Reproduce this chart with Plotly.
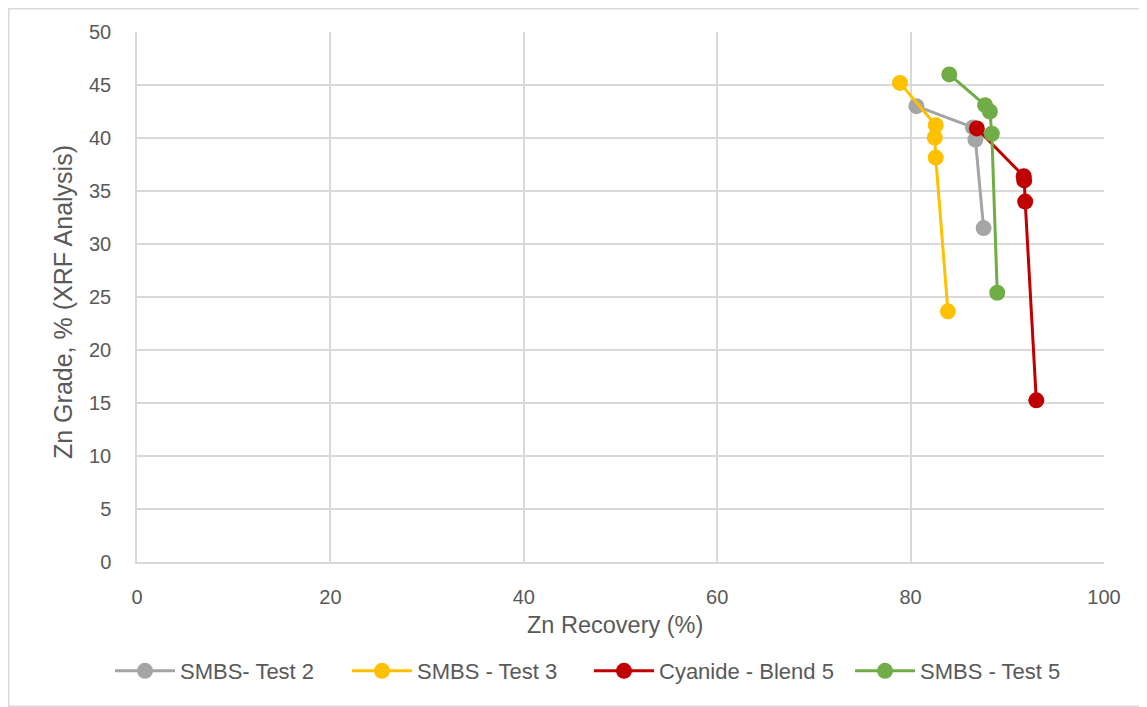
import plotly.graph_objects as go

series_names = ["SMBS- Test 2", "SMBS - Test 3", "Cyanide - Blend 5", "SMBS - Test 5"]
series_colors = ["#A5A5A5", "#FFC000", "#C00000", "#70AD47"]

smbs2_x = [80.6, 86.45, 86.7, 87.55]
smbs2_y = [43.0, 41.0, 39.85, 31.5]

smbs3_x = [78.9, 82.6, 82.5, 82.6, 83.86]
smbs3_y = [45.2, 41.2, 40.05, 38.15, 23.65]

cyan5_x = [86.85, 91.7, 91.75, 91.85, 93.0]
cyan5_y = [40.9, 36.4, 36.0, 34.0, 15.25]

smbs5_x = [84.0, 87.7, 88.2, 88.4, 88.96]
smbs5_y = [46.0, 43.1, 42.5, 40.4, 25.4]

x_ticks = [0, 20, 40, 60, 80, 100]
y_ticks = [0, 5, 10, 15, 20, 25, 30, 35, 40, 45, 50]

xs = [smbs2_x, smbs3_x, cyan5_x, smbs5_x]
ys = [smbs2_y, smbs3_y, cyan5_y, smbs5_y]

FONT = "Liberation Sans"
TXT = "#595959"
GRID = "#D9D9D9"

# page has an 8px body margin; figure coords = page coords - 8
W, H = 1139, 699
L, R, T, B = 129, 43, 24, 145
pw, ph = W - L - R, H - T - B

def px_x(page_x):
    return (page_x - 8 - L) / pw

def px_y(page_y):
    return (H - B - (page_y - 8)) / ph

legend_ids = ["legend", "legend2", "legend3", "legend4"]
legend_starts = [115, 352, 594, 855]

fig = go.Figure()
for name, color, x, y, lid in zip(series_names, series_colors, xs, ys, legend_ids):
    fig.add_trace(go.Scatter(
        x=x, y=y, name=name, mode="lines+markers",
        line=dict(color=color, width=3),
        marker=dict(color=color, size=16),
        legend=lid,
    ))

legend_layouts = {}
for lid, start in zip(legend_ids, legend_starts):
    legend_layouts[lid] = dict(
        orientation="h", x=px_x(start - 5), xanchor="left", y=px_y(671),
        yanchor="middle", font=dict(size=22, color=TXT), itemwidth=60,
        bgcolor="rgba(0,0,0,0)",
    )

fig.update_layout(
    width=W, height=H,
    margin=dict(l=L, r=R, t=T, b=B),
    paper_bgcolor="white", plot_bgcolor="white",
    font=dict(family=FONT, color=TXT, size=20),
    showlegend=True,
    xaxis=dict(range=[0, 100], tickvals=x_ticks, showgrid=True, gridcolor=GRID,
               gridwidth=1.5, zeroline=False, showline=True, linecolor=GRID,
               linewidth=1.5, ticks="", tickfont=dict(size=20, color=TXT),
               ticklabelstandoff=16),
    yaxis=dict(range=[0, 50], tickvals=y_ticks, showgrid=True, gridcolor=GRID,
               gridwidth=1.5, zeroline=False, showline=True, linecolor=GRID,
               linewidth=1.5, ticks="", tickfont=dict(size=20, color=TXT),
               ticklabelstandoff=20),
    annotations=[
        dict(text="Zn Recovery (%)", xref="paper", yref="paper", x=px_x(615),
             y=px_y(625), xanchor="center", yanchor="middle",
             showarrow=False, font=dict(size=23.5, color=TXT)),
        dict(text="Zn Grade, % (XRF Analysis)", xref="paper", yref="paper",
             x=px_x(63), y=px_y(302), xanchor="center", yanchor="middle",
             textangle=-90, showarrow=False, font=dict(size=25, color=TXT)),
    ],
    shapes=[dict(type="rect", xref="paper", yref="paper",
                 x0=-(L - 0.75) / pw, x1=1 + (R - 0.75) / pw,
                 y0=-(B - 0.75) / ph, y1=1 + (T - 0.75) / ph,
                 line=dict(color=GRID, width=1.5))],
    **legend_layouts,
)

fig.write_html("out.html")
